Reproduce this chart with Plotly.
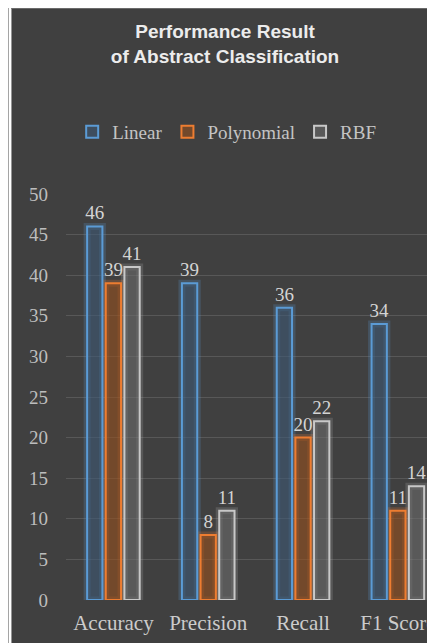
import plotly.graph_objects as go

categories = ["Accuracy", "Precision", "Recall", "F1 Score"]
linear = [46, 39, 36, 34]
polynomial = [39, 8, 20, 11]
rbf = [41, 11, 22, 14]
series_names = ["Linear", "Polynomial", "RBF"]
y_ticks = [0, 5, 10, 15, 20, 25, 30, 35, 40, 45, 50]

# the page body adds an 8px white margin; the figure fills the rest of the window
W, H = 427, 635
L, R, T, B = 58, 0, 186, 43
pw = W - L - R
ph = H - T - B

border = ["#5b9bd5", "#ed7d31", "#c8c8c8"]
fill = ["rgba(60,90,120,0.55)", "rgba(150,80,30,0.6)", "rgba(110,110,110,0.55)"]
glow = ["rgba(91,155,213,0.22)", "rgba(237,125,49,0.22)", "rgba(200,200,200,0.18)"]

serif = "Liberation Serif, Times New Roman, serif"

fig = go.Figure()
data = [linear, polynomial, rbf]
for i, (name, vals) in enumerate(zip(series_names, data)):
    fig.add_trace(go.Bar(
        x=categories, y=vals, offsetgroup=name, showlegend=False, hoverinfo="skip",
        marker=dict(color="rgba(0,0,0,0)", line=dict(color=glow[i], width=7)),
    ))
for i, (name, vals) in enumerate(zip(series_names, data)):
    fig.add_trace(go.Bar(
        x=categories, y=vals, name=name, offsetgroup=name,
        text=[str(v) for v in vals], textposition="outside", cliponaxis=False,
        constraintext="none",
        textfont=dict(family=serif, size=19, color="#d4d4d4"),
        marker=dict(color=fill[i], line=dict(color=border[i], width=2)),
    ))

def px_x(p):
    return (p - L) / pw

def px_y(p):
    return (H - B - p) / ph

shapes = [
    dict(type="rect", xref="paper", yref="paper", x0=px_x(0), x1=px_x(3),
         y0=px_y(H), y1=px_y(0), fillcolor="white", line=dict(width=0), layer="below"),
    dict(type="line", xref="paper", yref="paper", x0=px_x(3), x1=px_x(W),
         y0=px_y(0.5), y1=px_y(0.5), line=dict(color="#6a6a6a", width=1), layer="below"),
]

fig.update_layout(
    width=W, height=H,
    margin=dict(l=L, r=R, t=T, b=B, pad=0),
    paper_bgcolor="#404040", plot_bgcolor="#404040",
    barmode="group", bargap=0.41, bargroupgap=0.18,
    title=dict(text="<b>Performance Result<br>of Abstract Classification</b>",
               x=217 / W, xanchor="center", y=1 - 30 / H, yanchor="middle",
               font=dict(family="Liberation Sans, Arial, sans-serif", size=19, color="#ececec")),
    legend=dict(orientation="h", x=px_x(220), xanchor="center", y=px_y(124), yanchor="middle",
                font=dict(family=serif, size=19, color="#c4c4c4"),
                bgcolor="rgba(0,0,0,0)", itemwidth=30, traceorder="normal"),
    xaxis=dict(range=[-0.5, 3.36], showgrid=False, zeroline=False, showline=False,
               ticks="", ticklabelstandoff=8,
               tickfont=dict(family=serif, size=21, color="#cccccc")),
    yaxis=dict(range=[0, 50], tickvals=y_ticks, showgrid=True, gridcolor="#585858",
               gridwidth=1, zeroline=False, showline=False, ticks="",
               ticklabelstandoff=17,
               tickfont=dict(family=serif, size=19, color="#bdbdbd")),
    shapes=shapes,
    showlegend=True,
)

fig.write_html("out.html")
